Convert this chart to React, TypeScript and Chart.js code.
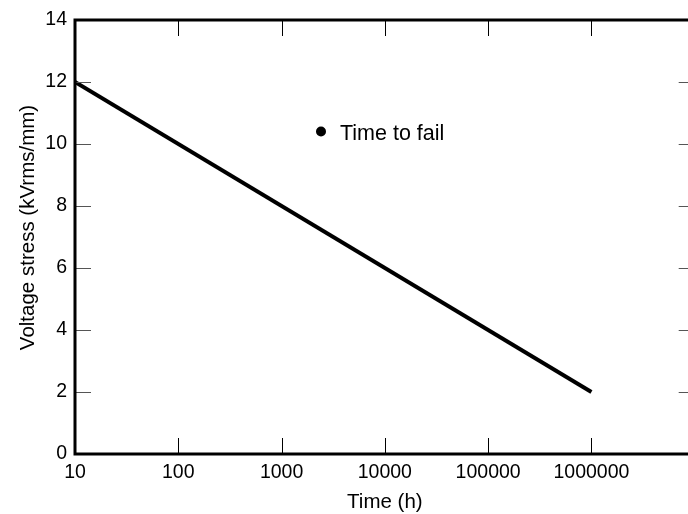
import { useEffect, useRef } from 'react';
import { Chart, registerables } from 'chart.js';

Chart.register(...registerables);

// ---- data ----
const timeHours = [10, 1000000];
const voltageStress = [12, 2];
const xTickValues = [10, 100, 1000, 10000, 100000, 1000000, 10000000];
const xTickLabels = ['10', '100', '1000', '10000', '100000', '1000000', ''];
const yTickValues = [0, 2, 4, 6, 8, 10, 12, 14];
const seriesLabel = 'Time to fail';
const xTitle = 'Time (h)';
const yTitle = 'Voltage stress (kVrms/mm)';

const FONT = '"Liberation Sans", Arial, Helvetica, sans-serif';
const CANVAS_W = 720;
const CANVAS_H = 514;

const framePlugin = {
  id: 'frame',
  afterDraw(chart: any) {
    const { ctx, chartArea } = chart;
    const { left, top, right, bottom } = chartArea;
    const xs = chart.scales.x;
    const ys = chart.scales.y;
    const len = 16;
    ctx.save();
    ctx.lineWidth = 1;
    ctx.strokeStyle = '#000';
    xs.ticks.forEach((t: any) => {
      const px = Math.round(xs.getPixelForValue(t.value)) + 0.5;
      ctx.beginPath();
      ctx.moveTo(px, bottom);
      ctx.lineTo(px, bottom - len);
      ctx.moveTo(px, top);
      ctx.lineTo(px, top + len);
      ctx.stroke();
    });
    ctx.strokeStyle = '#555';
    ys.ticks.forEach((t: any) => {
      const py = Math.round(ys.getPixelForValue(t.value)) + 0.5;
      ctx.beginPath();
      ctx.moveTo(left, py);
      ctx.lineTo(left + len, py);
      ctx.moveTo(right, py);
      ctx.lineTo(right - len, py);
      ctx.stroke();
    });
    ctx.lineWidth = 3;
    ctx.strokeStyle = '#000';
    ctx.strokeRect(left, top, right - left, bottom - top);

    // y-axis title
    ctx.save();
    ctx.translate(33.5, 227.5);
    ctx.rotate(-Math.PI / 2);
    ctx.font = `20.5px ${FONT}`;
    ctx.fillStyle = '#000';
    ctx.textAlign = 'center';
    ctx.textBaseline = 'alphabetic';
    ctx.fillText(yTitle, 0, 0);
    ctx.restore();

    // legend
    const label = chart.data.datasets[0].label;
    ctx.fillStyle = '#000';
    ctx.beginPath();
    ctx.arc(321, 131.5, 5, 0, Math.PI * 2);
    ctx.fill();
    ctx.font = `21.5px ${FONT}`;
    ctx.textAlign = 'left';
    ctx.textBaseline = 'alphabetic';
    ctx.fillText(label, 340, 139.5);
    ctx.restore();
  },
};

export default function App() {
  const ref = useRef<HTMLCanvasElement | null>(null);

  useEffect(() => {
    if (!ref.current) return;
    const chart = new Chart(ref.current, {
      type: 'line',
      data: {
        datasets: [
          {
            label: seriesLabel,
            data: timeHours.map((t, i) => ({ x: t, y: voltageStress[i] })),
            borderColor: '#000',
            backgroundColor: '#000',
            borderWidth: 4,
            pointRadius: 0,
            tension: 0,
          },
        ],
      },
      options: {
        animation: false,
        responsive: false,
        devicePixelRatio: 1,
        layout: { padding: { left: 0, top: 20, right: CANVAS_W - 694.7, bottom: 0 } },
        plugins: {
          legend: { display: false },
          tooltip: { enabled: false },
        },
        scales: {
          x: {
            type: 'logarithmic',
            min: 10,
            max: 10000000,
            afterBuildTicks: (scale: any) => {
              scale.ticks = xTickValues.map((v) => ({ value: v }));
            },
            afterFit: (scale: any) => {
              scale.height = CANVAS_H - 454;
            },
            grid: { display: false, drawTicks: false },
            border: { display: false },
            ticks: {
              autoSkip: false,
              maxRotation: 0,
              padding: 7,
              color: '#000',
              font: { family: FONT, size: 19.5 },
              callback: (_v: any, i: number) => xTickLabels[i],
            },
            title: {
              display: true,
              text: xTitle,
              color: '#000',
              font: { family: FONT, size: 20.5, lineHeight: 1 },
              padding: { top: 0, bottom: 1 },
            },
          },
          y: {
            type: 'linear',
            min: 0,
            max: 14,
            afterBuildTicks: (scale: any) => {
              scale.ticks = yTickValues.map((v) => ({ value: v }));
            },
            afterFit: (scale: any) => {
              scale.width = 75;
            },
            grid: { display: false, drawTicks: false },
            border: { display: false },
            ticks: {
              padding: 8,
              color: '#000',
              font: { family: FONT, size: 19.5 },
            },
          },
        },
      },
      plugins: [framePlugin],
    } as any);
    return () => chart.destroy();
  }, []);

  return (
    <div style={{ position: 'fixed', left: 0, top: 0, width: 688, height: 514, overflow: 'hidden', background: '#fff' }}>
      <canvas ref={ref} width={CANVAS_W} height={CANVAS_H} style={{ display: 'block' }} />
    </div>
  );
}
